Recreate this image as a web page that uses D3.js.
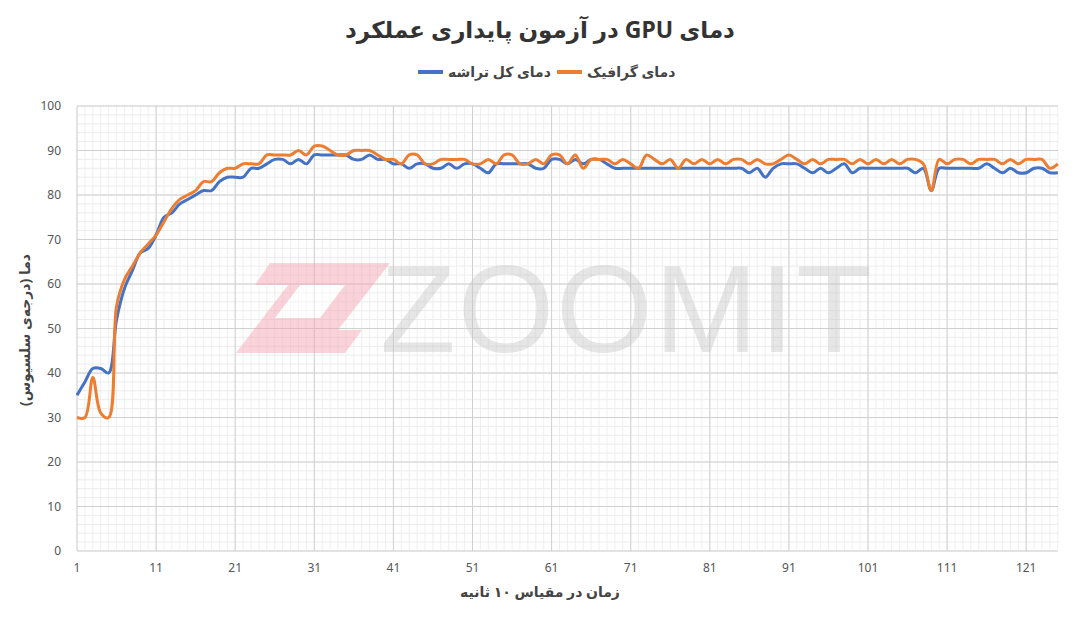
<!DOCTYPE html>
<html><head><meta charset="utf-8">
<script src="https://cdn.jsdelivr.net/npm/d3@7"></script>
<style>body{margin:0;background:#fff;font-family:"Noto Sans","DejaVu Sans",sans-serif}</style>
</head><body><div id="vis"></div>
<script>
var chipTemp = [35,38,41,41,40,52,59,63,67,68,71,75,76,78,79,80,81,81,83,84,84,84,86,86,87,88,88,87,88,87,89,89,89,89,89,88,88,89,88,88,87,87,86,87,87,86,86,87,86,87,87,86,85,87,87,87,87,87,86,86,88,88,87,88,87,88,88,87,86,86,86,86,86,86,86,86,86,86,86,86,86,86,86,86,86,85,86,84,86,87,87,87,86,85,86,85,86,87,85,86,86,86,86,86,86,86,85,86,81,86,86,86,86,86,86,87,86,85,86,85,85,86,86,85,85];
var gpuTemp = [30,30,39,31,30,55,61,64,67,69,71,74,77,79,80,81,83,83,85,86,86,87,87,87,89,89,89,89,90,89,91,91,90,89,89,90,90,90,89,88,88,87,89,89,87,87,88,88,88,88,87,87,88,87,89,89,87,87,88,87,89,89,87,89,86,88,88,88,87,88,87,86,89,88,87,88,86,88,87,88,87,88,87,88,88,87,88,87,87,88,89,88,87,88,87,88,88,88,87,88,87,88,87,88,87,88,88,87,81,88,87,88,88,87,88,88,88,87,88,87,88,88,88,86,87];
var xTicks = [1,11,21,31,41,51,61,71,81,91,101,111,121];
var yTicks = [0,10,20,30,40,50,60,70,80,90,100];
var seriesNames = ["دمای کل تراشه","دمای گرافیک"];
var colors = ["#4472c4","#ed7d31"];

var W=1080,H=617, m={left:77,right:18,top:106,bottom:66};
var svg=d3.select("#vis").append("svg").attr("width",W).attr("height",H);
var x=d3.scaleLinear().domain([1,125]).range([m.left,m.left+984*124/124.4]);
var y=d3.scaleLinear().domain([0,100]).range([H-m.bottom,m.top]);

// minor grid
var g=svg.append("g");
g.selectAll(".vx").data(d3.range(1,126)).enter().append("line")
 .attr("x1",d=>x(d)).attr("x2",d=>x(d)).attr("y1",y(0)).attr("y2",y(100))
 .attr("stroke","#efefef").attr("stroke-width",1);
g.selectAll(".hy").data(d3.range(0,101,2)).enter().append("line")
 .attr("x1",x(1)).attr("x2",x(125)).attr("y1",d=>y(d)).attr("y2",d=>y(d))
 .attr("stroke","#ececec");
g.selectAll(".mx").data(xTicks).enter().append("line")
 .attr("x1",d=>x(d)).attr("x2",d=>x(d)).attr("y1",y(0)).attr("y2",y(100)).attr("stroke","#d0d0d0");
g.selectAll(".my").data(yTicks).enter().append("line")
 .attr("x1",x(1)).attr("x2",x(125)).attr("y1",d=>y(d)).attr("y2",d=>y(d)).attr("stroke","#d0d0d0");

// watermark
var wm=svg.append("g").attr("opacity",0.45);
wm.append("path").attr("d","M270,263 L390,263 L338,330 L362,330 L345,353 L236,353 L288,285 L255,285 Z")
 .attr("fill","#f4a0ae");
wm.append("path").attr("d","M300,285 L345,285 L320,318 L275,318 Z").attr("fill","#ffffff");
wm.append("text").attr("x",627).attr("y",352).attr("text-anchor","middle")
 .attr("font-size",124).attr("font-family","Liberation Sans").attr("fill","#c8c8c8").attr("letter-spacing",2).text("ZOOMIT");

// axes labels
svg.append("g").selectAll("text").data(yTicks).enter().append("text")
 .attr("x",m.left-16).attr("y",d=>y(d)+4).attr("text-anchor","end").attr("font-size",12).attr("fill","#555").text(d=>d);
svg.append("g").selectAll("text").data(xTicks).enter().append("text")
 .attr("x",d=>x(d)).attr("y",y(0)+21).attr("text-anchor","middle").attr("font-size",12).attr("fill","#555").text(d=>d);

var line=d3.line().x((d,i)=>x(i+1)).y(d=>y(d)).curve(d3.curveCatmullRom.alpha(0.5));
[chipTemp,gpuTemp].forEach(function(s,k){
  svg.append("path").datum(s).attr("d",line).attr("fill","none")
   .attr("stroke",colors[k]).attr("stroke-width",3).attr("stroke-linejoin","round");
});

svg.append("text").attr("x",540).attr("y",38).attr("text-anchor","middle").attr("direction","rtl").attr("font-size",23)
 .attr("font-weight","bold").attr("fill","#333").text("دمای GPU در آزمون پایداری عملکرد");
// legend
var leg=[{x:418,t:seriesNames[0],c:colors[0]},{x:557,t:seriesNames[1],c:colors[1]}];
leg.forEach(function(l){
  svg.append("line").attr("x1",l.x).attr("x2",l.x+25).attr("y1",72).attr("y2",72).attr("stroke",l.c).attr("stroke-width",4);
  svg.append("text").attr("x",l.x+30).attr("y",77).attr("text-anchor","start").attr("direction","ltr")
   .attr("font-size",14).attr("font-weight","bold").attr("fill","#444").text(l.t);
});
svg.append("text").attr("x",540).attr("y",597).attr("text-anchor","middle").attr("direction","rtl").attr("font-size",14)
 .attr("font-weight","bold").attr("fill","#444").text("زمان در مقیاس ۱۰ ثانیه");
svg.append("text").attr("transform","translate(30,330) rotate(-90)").attr("text-anchor","middle").attr("direction","rtl")
 .attr("font-size",14).attr("font-weight","bold").attr("fill","#444").text("دما (درجه‌ی سلسیوس)");
</script></body></html>
